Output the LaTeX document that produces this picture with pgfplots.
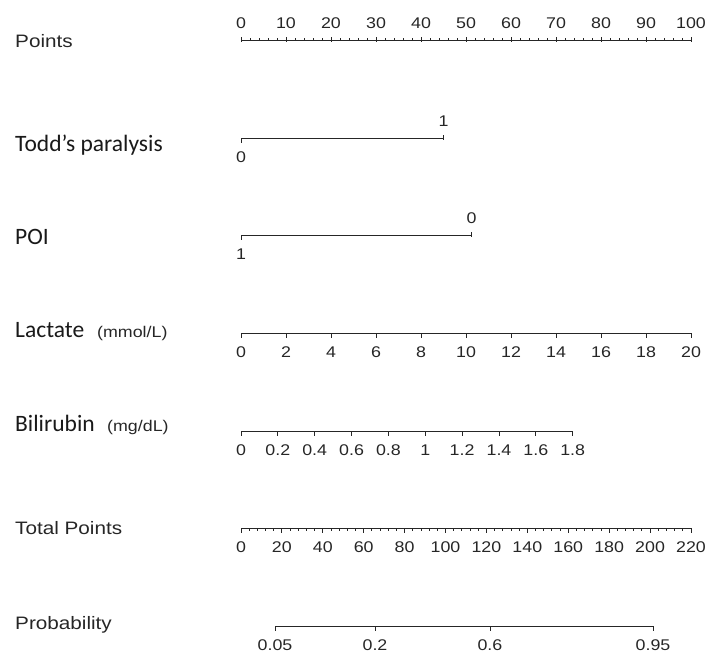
\documentclass[border=0pt]{standalone}
\usepackage{fontspec}
\setmainfont{Liberation Sans}[FakeStretch=1.15]
\newfontfamily\calibri{Carlito}
\usepackage{pgfplots}
\pgfplotsset{compat=1.18}

\newcommand\ticks{\fontsize{15.5}{16}\selectfont}
\newcommand\lab{\fontsize{18}{20}\selectfont}
\newcommand\clab{\calibri\fontsize{23.5}{25}\selectfont}
\newcommand\unit{\fontsize{15.5}{17}\selectfont}

% one nomogram scale = one x axis line
\pgfplotsset{
  nomo/.style={
    scale only axis, height=1pt, ymin=0, ymax=1,
    axis y line=none, axis x line=bottom,
    axis line style={-, line width=0.9pt, black!85},
    tick style={line width=0.9pt, black!85},
    tick align=outside,
    major tick length=5pt, minor tick length=3pt,
    clip=false,
    /pgf/number format/assume math mode=true,
    xticklabel style={font=\ticks, text=black!85, anchor=base, inner sep=0pt, yshift=-20pt},
  },
  nomotop/.style={
    nomo, axis x line=top,
    axis line style={-},
    xticklabel style={yshift=29pt},
  },
}

\begin{document}
\begin{tikzpicture}[x=1pt,y=1pt]
\useasboundingbox (0,0) rectangle (707,655);

% Points
\begin{axis}[nomotop, at={(241pt,615pt)}, anchor=north west, width=450pt,
  xmin=0, xmax=100, xtick={0,10,...,100}, minor x tick num=4]
\end{axis}

% Todd's paralysis (0 -> 0 pts, 1 -> 45 pts)
\begin{axis}[nomo, at={(241pt,517pt)}, anchor=south west, width=202.5pt,
  xmin=0, xmax=1, xtick={0}]
\end{axis}
\begin{axis}[nomotop, at={(241pt,517pt)}, anchor=north west, width=202.5pt,
  xmin=0, xmax=1, xtick={1}]
\end{axis}

% POI (1 -> 0 pts, 0 -> 51.3 pts)
\begin{axis}[nomo, at={(241pt,420pt)}, anchor=south west, width=230.7pt,
  xmin=0, xmax=1, x dir=reverse, xtick={1}]
\end{axis}
\begin{axis}[nomotop, at={(241pt,420pt)}, anchor=north west, width=230.7pt,
  xmin=0, xmax=1, x dir=reverse, xtick={0}]
\end{axis}

% Lactate
\begin{axis}[nomo, at={(241pt,322pt)}, anchor=south west, width=450pt,
  xmin=0, xmax=20, xtick={0,2,...,20}]
\end{axis}

% Bilirubin
\begin{axis}[nomo, at={(241pt,224pt)}, anchor=south west, width=331.7pt,
  xmin=0, xmax=1.8, xtick={0,0.2,0.4,0.6,0.8,1,1.2,1.4,1.6,1.8},
  xticklabels={0,0.2,0.4,0.6,0.8,1,1.2,1.4,1.6,1.8}]
\end{axis}

% Total Points
\begin{axis}[nomo, at={(241pt,127pt)}, anchor=south west, width=450pt,
  xmin=0, xmax=220, xtick={0,20,...,220}, minor x tick num=4]
\end{axis}

% Probability, placed on the total points scale
\begin{axis}[nomo, at={(275pt,29pt)}, anchor=south west, width=378pt,
  xmin=16.62, xmax=201.4, xtick={16.62,65.5,121.7,201.4},
  xticklabels={0.05,0.2,0.6,0.95}]
\end{axis}

% row names
\tikzset{rowname/.style={anchor=base west, inner sep=0pt}}
\node[rowname, font=\lab, text=black!85] at (15,607.7) {Points};
\node[rowname, font=\clab, text=black!90] at (15,503.3) {Todd’s paralysis};
\node[rowname, font=\clab, text=black!90] at (15,410) {POI};
\node[rowname, font=\clab, text=black!90] at (15,317.7) {Lactate};
\node[rowname, font=\unit, text=black!85] at (97,317.7) {(mmol/L)};
\node[rowname, font=\clab, text=black!90] at (15,223.3) {Bilirubin};
\node[rowname, font=\unit, text=black!85] at (107,223.3) {(mg/dL)};
\node[rowname, font=\lab, text=black!85] at (15,120) {Total Points};
\node[rowname, font=\lab, text=black!85] at (15,25) {Probability};
\end{tikzpicture}
\end{document}
